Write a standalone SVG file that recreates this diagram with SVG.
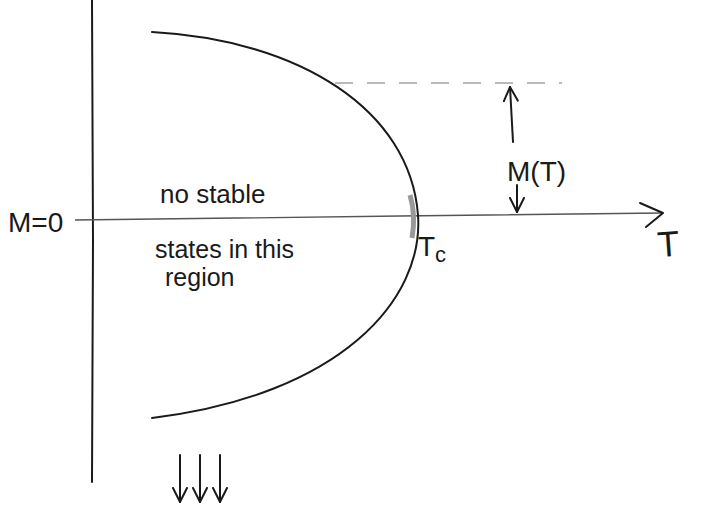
<svg xmlns="http://www.w3.org/2000/svg" width="707" height="509" viewBox="0 0 707 509">
<style>
.ink{fill:none;stroke:#1a1a1a;stroke-width:2;stroke-linecap:round;stroke-linejoin:round}
.thin{fill:none;stroke:#555;stroke-width:1.3}
.dash{fill:none;stroke:#777;stroke-width:1.2;stroke-dasharray:18 14}
.lbl{font-family:"Liberation Sans",Arial,sans-serif;fill:#1a1a1a}
</style>
<defs>
<marker id="v" viewBox="0 0 16 16" refX="15" refY="8" markerWidth="16" markerHeight="16" markerUnits="userSpaceOnUse" orient="auto">
<path d="M1,1 L15,8 L1,15" fill="none" stroke="#1a1a1a" stroke-width="2" stroke-linecap="round"/>
</marker>
</defs>
<rect width="707" height="509" fill="#fff"/>
<g id="axes">
<path class="ink" d="M92,0 L93,240 L92,482"/>
<path class="thin" d="M75,220 L400,216 L662,213"/>
<path class="ink" d="M640,203 L663,213 L646,227"/>
<path class="dash" d="M335,83 L562,83"/>
</g>
<g id="curve">
<path d="M410,195 Q416,215 412,238" fill="none" stroke="#999" stroke-width="5"/>
<path class="ink" d="M152,32 C300,40 410,110 418,215 C424,300 340,395 152,418"/>
</g>
<g id="connectors">
<path class="ink" d="M513,142 L510,87" marker-end="url(#v)"/>
<path class="ink" d="M517,185 L517,212" marker-end="url(#v)"/>
<path class="ink" d="M180,455 L180,502" marker-end="url(#v)"/>
<path class="ink" d="M200,455 L200,502" marker-end="url(#v)"/>
<path class="ink" d="M220,455 L220,502" marker-end="url(#v)"/>
</g>
<g id="labels">
<text class="lbl" x="8" y="232" font-size="28">M=0</text>
<text class="lbl" x="507" y="181" font-size="28">M(T)</text>
<text class="lbl" x="160" y="203" font-size="26">no stable</text>
<text class="lbl" x="155" y="258" font-size="25">states in this</text>
<text class="lbl" x="165" y="286" font-size="25">region</text>
<text class="lbl" x="418" y="256" font-size="28">T<tspan font-size="22" dy="6">c</tspan></text>
<text class="lbl" x="657" y="256" font-size="36" transform="rotate(-4 675 240)">T</text>
</g>
</svg>
